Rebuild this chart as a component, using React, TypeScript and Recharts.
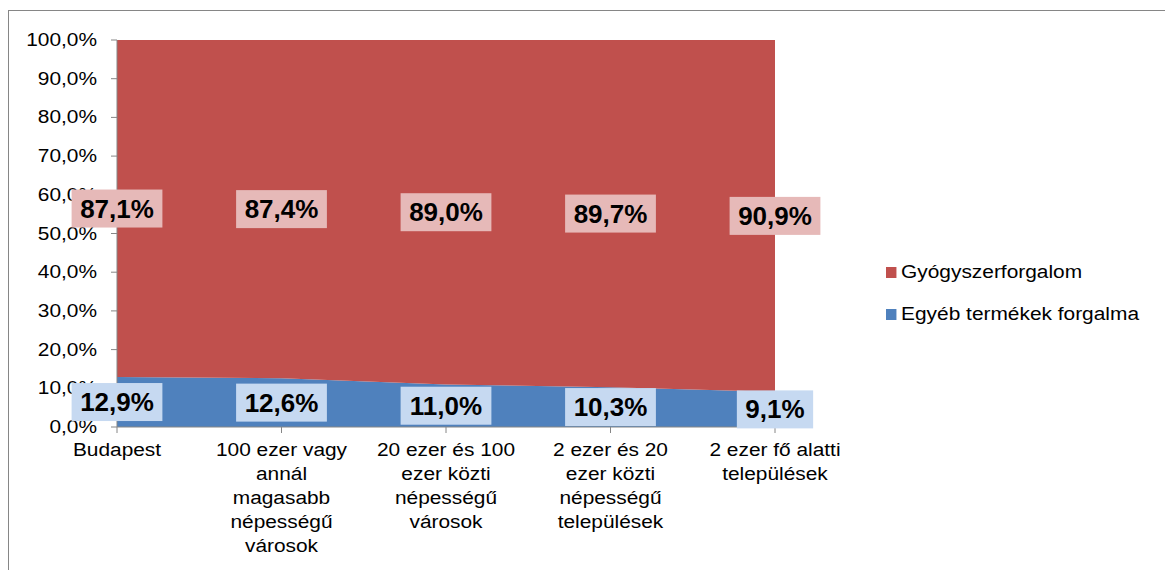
import React from 'react';
import { ComposedChart, Area, Line, XAxis, YAxis, Legend, LabelList } from 'recharts';

const categories = [
  'Budapest',
  '100 ezer vagy annál magasabb népességű városok',
  '20 ezer és 100 ezer közti népességű városok',
  '2 ezer és 20 ezer közti népességű települések',
  '2 ezer fő alatti települések',
];
const categoryLines = [
  ['Budapest'],
  ['100 ezer vagy', 'annál', 'magasabb', 'népességű', 'városok'],
  ['20 ezer és 100', 'ezer közti', 'népességű', 'városok'],
  ['2 ezer és 20', 'ezer közti', 'népességű', 'települések'],
  ['2 ezer fő alatti', 'települések'],
];
const egyeb = [12.9, 12.6, 11.0, 10.3, 9.1];
const gyogy = [87.1, 87.4, 89.0, 89.7, 90.9];
const yTicks = [0, 10, 20, 30, 40, 50, 60, 70, 80, 90, 100];

const series = [
  { key: 'gyogy', name: 'Gyógyszerforgalom', color: '#C0504D', labelBg: '#E6B9B8' },
  { key: 'egyeb', name: 'Egyéb termékek forgalma', color: '#4F81BD', labelBg: '#C6D9F1' },
];

const data = categories.map((name, i) => ({
  name,
  egyeb: egyeb[i],
  gyogy: gyogy[i],
  egyebMid: egyeb[i] / 2,
  gyogyMid: egyeb[i] + gyogy[i] / 2,
}));

const FONT = '"Liberation Sans", Arial, sans-serif';
const STRETCH = 1.16;
const fmt = (v: number) => v.toFixed(1).replace('.', ',') + '%';

const YTick = (props: any) => {
  const { x, y, payload } = props;
  return (
    <text transform={`translate(${x},${y}) scale(${STRETCH},1)`} textAnchor="end" dy={6}
      fontFamily={FONT} fontSize={18} fill="#000">
      {fmt(payload.value)}
    </text>
  );
};

const XTick = (props: any) => {
  const { x, y, index } = props;
  const lines = categoryLines[index] || [];
  return (
    <g transform={`translate(${x},${y}) scale(${STRETCH},1)`}>
      {lines.map((l, i) => (
        <text key={i} x={0} y={23 + i * 24} textAnchor="middle" fontFamily={FONT} fontSize={18} fill="#000">
          {l}
        </text>
      ))}
    </g>
  );
};

const digitW = (s: string) =>
  s.split('').reduce((w, c) => w + (c === ',' ? 7.2 : c === '%' ? 23.1 : 14.5), 0);

const makeLabel = (bg: string) => (props: any) => {
  const { x, y, value } = props;
  const text = fmt(Number(value));
  const w = digitW(text) + 17;
  return (
    <g>
      <rect x={x - w / 2} y={y - 19} width={w} height={38} fill={bg} />
      <text x={x} y={y + 9} textAnchor="middle" fontFamily={FONT} fontWeight="bold" fontSize={26} fill="#000">
        {text}
      </text>
    </g>
  );
};

const renderLegend = () => (
  <div style={{ fontFamily: FONT, fontSize: 18, color: '#000', transform: `scaleX(${STRETCH})`, transformOrigin: 'left top' }}>
    {series.map((s) => (
      <div key={s.key} style={{ display: 'flex', alignItems: 'center', height: 42, whiteSpace: 'nowrap' }}>
        <span style={{ display: 'inline-block', width: 9, height: 11, background: s.color, marginRight: 4 }} />
        <span>{s.name}</span>
      </div>
    ))}
  </div>
);

export default function App() {
  return (
    <div style={{ position: 'absolute', left: 0, top: 0, width: 1165, height: 570, background: '#fff' }}>
      <div style={{ position: 'absolute', left: 8, top: 10, width: 1157, height: 560, borderTop: '1px solid #868686', borderLeft: '1px solid #868686' }} />
      <ComposedChart width={1165} height={570} data={data} margin={{ top: 40, right: 390, bottom: 3, left: 0 }}>
        <XAxis dataKey="name" scale="point" padding={{ left: 0, right: 0 }} interval={0} height={140}
          stroke="#868686" tickSize={6} tickMargin={0} tick={<XTick />} />
        <YAxis type="number" domain={[0, 100]} ticks={yTicks} width={117} stroke="#868686"
          tickSize={6} tickMargin={14} tick={<YTick />} allowDataOverflow />
        <Area dataKey="egyeb" name="Egyéb termékek forgalma" stackId="1" type="linear"
          stroke="none" fill="#4F81BD" fillOpacity={1} isAnimationActive={false} />
        <Area dataKey="gyogy" name="Gyógyszerforgalom" stackId="1" type="linear"
          stroke="none" fill="#C0504D" fillOpacity={1} isAnimationActive={false} />
        <Line dataKey="egyebMid" stroke="none" dot={false} activeDot={false} legendType="none" isAnimationActive={false}>
          <LabelList dataKey="egyeb" content={makeLabel('#C6D9F1')} />
        </Line>
        <Line dataKey="gyogyMid" stroke="none" dot={false} activeDot={false} legendType="none" isAnimationActive={false}>
          <LabelList dataKey="gyogy" content={makeLabel('#E6B9B8')} />
        </Line>
        <Legend layout="vertical" align="center" verticalAlign="middle" content={renderLegend}
          wrapperStyle={{ left: 886, top: 251, width: 270 }} />
      </ComposedChart>
    </div>
  );
}
